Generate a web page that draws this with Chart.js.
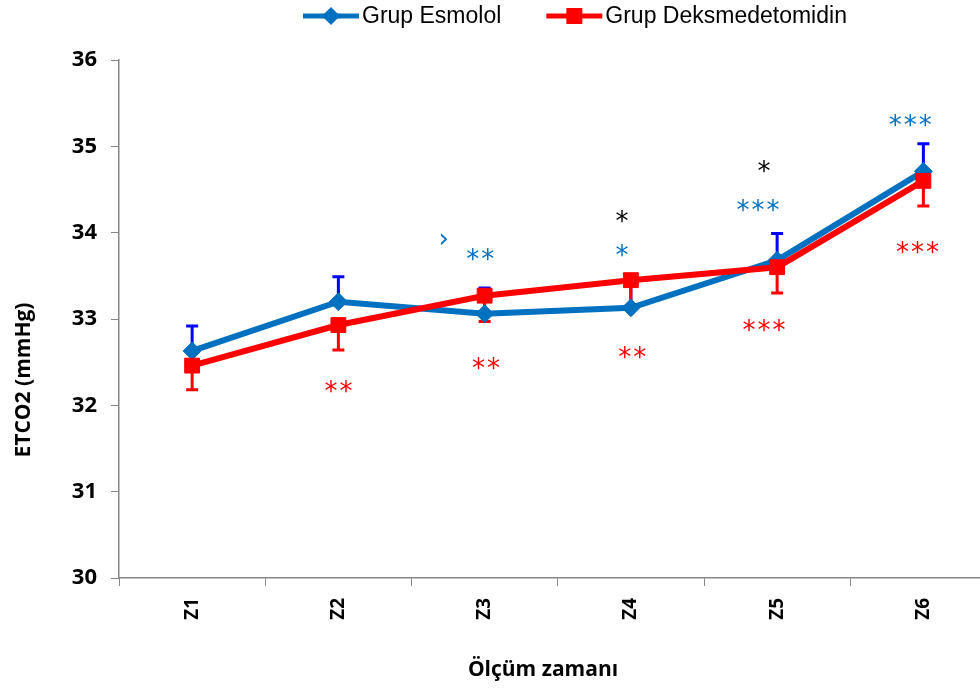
<!DOCTYPE html>
<html>
<head>
<meta charset="utf-8">
<script src="https://cdn.jsdelivr.net/npm/chart.js@4.4.0/dist/chart.umd.min.js"></script>
<style>
  html, body { margin: 0; padding: 0; overflow: hidden; background: #fff; }
</style>
</head>
<body>
<canvas id="grafico" width="1008" height="689"></canvas>
<script>
/* Datos del gráfico */

// Categorías del eje X
const categorias = ["Z1", "Z2", "Z3", "Z4", "Z5", "Z6"];

// Grup Esmolol (media y error hacia arriba)
const esmolol = [32.63, 33.20, 33.06, 33.13, 33.68, 34.71];
const esmololError = [0.29, 0.29, 0.30, 0.30, 0.31, 0.32];

// Grup Deksmedetomidin (media y error hacia abajo)
const deks = [32.46, 32.93, 33.27, 33.45, 33.60, 34.60];
const deksError = [0.28, 0.29, 0.30, 0.30, 0.30, 0.29];

// Ticks del eje Y
const yMin = 30;
const yMax = 36;

// Asteriscos de significancia (posición en índice de categoría y valor)
const notaTexto = ["**", "›", "**", "**", "*", "*", "**", "*", "***", "***", "***", "***"];
const notaX = [1.0, 1.72, 1.97, 2.01, 2.94, 2.94, 3.01, 3.91, 3.87, 3.91, 4.91, 4.96];
const notaY = [32.22, 33.92, 33.75, 32.48, 34.19, 33.79, 32.61, 34.77, 34.32, 32.92, 35.30, 33.83];
const notaColor = ["#FF0000", "#0070C0", "#0070C0", "#FF0000", "#000000", "#0070C0", "#FF0000",
  "#000000", "#0070C0", "#FF0000", "#0070C0", "#FF0000"];

// Títulos de ejes
const tituloX = "Ölçüm zamanı";
const tituloY = "ETCO2 (mmHg)";

const azul = "#0070C0";
const rojo = "#FF0000";

// Barras de error (se dibujan antes de las líneas)
const barrasError = {
  id: "barrasError",
  beforeDatasetsDraw(chart) {
    const ctx = chart.ctx;
    const x = chart.scales.x;
    const y = chart.scales.y;
    ctx.save();
    ctx.lineWidth = 3;
    for (let i = 0; i < categorias.length; i++) {
      const px = x.getPixelForValue(i);
      // esmolol hacia arriba
      let y0 = y.getPixelForValue(esmolol[i]);
      let y1 = y.getPixelForValue(esmolol[i] + esmololError[i]);
      ctx.strokeStyle = "#0000FF";
      ctx.beginPath();
      ctx.moveTo(px, y0); ctx.lineTo(px, y1);
      ctx.moveTo(px - 6, y1); ctx.lineTo(px + 6, y1);
      ctx.stroke();
      // deks hacia abajo
      y0 = y.getPixelForValue(deks[i]);
      y1 = y.getPixelForValue(deks[i] - deksError[i]);
      ctx.strokeStyle = rojo;
      ctx.beginPath();
      ctx.moveTo(px, y0); ctx.lineTo(px, y1);
      ctx.moveTo(px - 6, y1); ctx.lineTo(px + 6, y1);
      ctx.stroke();
    }
    ctx.restore();
  }
};

// Asteriscos, títulos y leyenda
const notasYLeyenda = {
  id: "notasYLeyenda",
  afterDraw(chart) {
    const ctx = chart.ctx;
    const x = chart.scales.x;
    const y = chart.scales.y;
    ctx.save();
    ctx.textAlign = "center";
    ctx.textBaseline = "alphabetic";
    ctx.font = "26px 'DejaVu Sans'";
    const paso = 15;
    for (let i = 0; i < notaTexto.length; i++) {
      ctx.fillStyle = notaColor[i];
      const chars = notaTexto[i].split("");
      const cx = x.getPixelForValue(notaX[i]);
      const cy = y.getPixelForValue(notaY[i]);
      chars.forEach((c, j) => {
        const m = ctx.measureText(c);
        const mid = (m.actualBoundingBoxAscent - m.actualBoundingBoxDescent) / 2;
        const px = cx + (j - (chars.length - 1) / 2) * paso;
        ctx.fillText(c, px, cy + mid);
      });
    }

    // Títulos de los ejes
    ctx.fillStyle = "#000";
    ctx.textBaseline = "middle";
    ctx.font = "bold 21px 'Open Sans'";
    ctx.fillText(tituloX, 543, 670);
    ctx.save();
    ctx.translate(24, 380);
    ctx.rotate(-Math.PI / 2);
    ctx.font = "bold 21px 'Open Sans'";
    ctx.fillText(tituloY, 0, 0);
    ctx.restore();

    // Leyenda
    const items = chart.data.datasets;
    let lx = 303;
    const ly = 16;
    ctx.textAlign = "left";
    ctx.textBaseline = "middle";
    ctx.font = "23px 'Liberation Sans'";
    items.forEach((ds, k) => {
      ctx.strokeStyle = ds.borderColor;
      ctx.lineWidth = 5;
      ctx.beginPath();
      ctx.moveTo(lx, ly); ctx.lineTo(lx + 56, ly);
      ctx.stroke();
      ctx.fillStyle = ds.borderColor;
      const cx = lx + 28;
      if (k === 0) {
        ctx.beginPath();
        ctx.moveTo(cx, ly - 9); ctx.lineTo(cx + 9, ly);
        ctx.lineTo(cx, ly + 9); ctx.lineTo(cx - 9, ly);
        ctx.closePath(); ctx.fill();
      } else {
        ctx.fillRect(cx - 8, ly - 8, 16, 16);
      }
      ctx.fillStyle = "#000";
      ctx.fillText(ds.label, lx + 59, ly + 1);
      lx += 59 + ctx.measureText(ds.label).width + 45;
    });
    ctx.restore();
  }
};

new Chart(document.getElementById("grafico"), {
  type: "line",
  data: {
    labels: categorias,
    datasets: [
      {
        label: "Grup Esmolol",
        data: esmolol,
        borderColor: azul,
        backgroundColor: azul,
        borderWidth: 6,
        pointStyle: "rectRot",
        pointRadius: 9,
        pointBorderWidth: 1,
        tension: 0,
        order: 2
      },
      {
        label: "Grup Deksmedetomidin",
        data: deks,
        borderColor: rojo,
        backgroundColor: rojo,
        borderWidth: 6,
        pointStyle: "rect",
        pointRadius: 10.5,
        pointBorderWidth: 1,
        tension: 0,
        order: 1
      }
    ]
  },
  plugins: [barrasError, notasYLeyenda],
  options: {
    responsive: false,
    animation: false,
    layout: { padding: { left: 0, right: 5, top: 60, bottom: 0 } },
    plugins: {
      legend: { display: false },
      tooltip: { enabled: false }
    },
    scales: {
      x: {
        offset: true,
        grid: { offset: true, drawOnChartArea: false, tickLength: 8, color: "#868686" },
        border: { color: "#868686", width: 1.5 },
        ticks: {
          minRotation: 90, maxRotation: 90, padding: 12,
          color: "#000", font: { family: "'Open Sans'", weight: "bold", size: 19 }
        },
        afterFit(scale) { scale.height = 111; }
      },
      y: {
        min: yMin,
        max: yMax,
        ticks: {
          stepSize: 1, padding: 14, color: "#000",
          font: { family: "'Open Sans'", weight: "bold", size: 22 }
        },
        grid: { drawOnChartArea: false, tickLength: 8, color: "#868686" },
        border: { color: "#868686", width: 1.5 },
        afterFit(scale) { scale.width = 119; }
      }
    }
  }
});
</script>
</body>
</html>
